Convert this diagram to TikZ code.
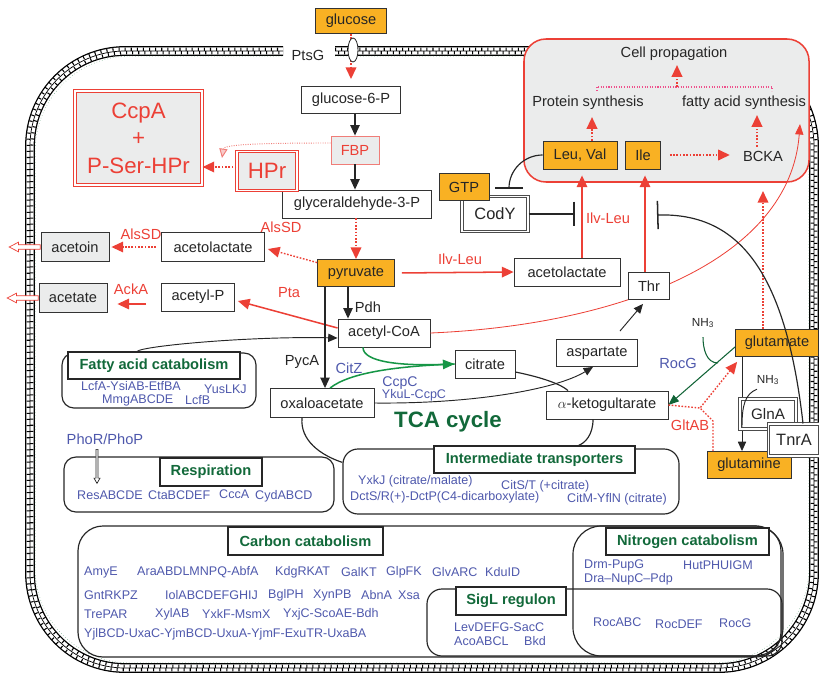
\documentclass[tikz,border=0pt]{standalone}
\usepackage{fontspec}
\setmainfont{Liberation Sans}
\usepackage{tikz}
\usetikzlibrary{arrows.meta, positioning, calc, shapes.geometric, shapes.arrows}
\definecolor{keyorange}{RGB}{249,177,35}
\definecolor{cellred}{RGB}{236,64,54}
\definecolor{lightred}{RGB}{240,125,120}
\definecolor{pinkdot}{RGB}{238,80,140}
\definecolor{boxgray}{RGB}{235,236,236}
\definecolor{geneblue}{RGB}{78,88,172}
\definecolor{titlegreen}{RGB}{18,105,58}
\definecolor{citzgreen}{RGB}{22,150,70}
\definecolor{rocgreen}{RGB}{18,100,55}
\definecolor{wallgreen}{RGB}{60,140,90}
\newcommand{\labfnt}{\fontsize{12.5}{14}\selectfont}
\newcommand{\genefnt}{\fontsize{10.7}{12}\selectfont}
\newcommand{\bigfnt}{\fontsize{19}{23.4}\selectfont}
\newcommand{\regfnt}{\fontsize{14}{16}\selectfont}
% cell wall outline, #1 = outward offset in px
\newcommand{\wallpath}[1]{(335,{-51+(#1)}) -- ({814+(#1)},{-51+(#1)}) -- ({814+(#1)},{-668-(#1)}) -- ({30-(#1)},{-668-(#1)}) -- ({30-(#1)},{-51+(#1)}) -- (283,{-51+(#1)})}
\tikzset{
    % metabolite boxes
    metab/.style={rectangle, draw=black!80, fill=white, line width=0.7pt, inner sep=0pt, minimum height=0.84cm, font=\labfnt, text=black!85},
    keymetab/.style={metab, fill=keyorange},
    exported/.style={metab, fill=boxgray},
    % regulators with double frame
    regulator/.style={rectangle, draw=black!70, double=white, double distance=1.2pt, line width=0.9pt, fill=white, inner sep=0pt, font=\regfnt, text=black!85},
    redregulator/.style={regulator, draw=cellred, fill=boxgray, text=cellred, font=\bigfnt, align=center},
    % group panels
    panel/.style={rectangle, rounded corners=0.36cm, draw=black!85, line width=1pt, inner sep=0pt},
    paneltitle/.style={rectangle, draw=black!85, fill=white, line width=1pt, inner sep=0pt, font=\labfnt\bfseries, text=titlegreen},
    gene/.style={font=\genefnt, text=geneblue, inner sep=0pt, anchor=west},
    plainlabel/.style={font=\labfnt, inner sep=0pt, text=black!85},
    enzyme/.style={font=\labfnt, inner sep=0pt, text=cellred},
    bluelabel/.style={font=\labfnt, inner sep=0pt, text=geneblue},
    % export arrows
    export/.style={single arrow, draw=cellred, fill=white, line width=0.6pt, minimum height=0.93cm, inner xsep=0pt, inner ysep=0.055cm, single arrow head extend=0.08cm, single arrow tip angle=55, shape border rotate=180},
    phoarrow/.style={single arrow, draw=black!85, fill=white, line width=0.6pt, minimum height=1.02cm, inner xsep=0.02cm, inner ysep=0.045cm, single arrow head extend=0.06cm, single arrow tip angle=60, shape border rotate=270},
    % arrow styles
    blackarrow/.style={-{Triangle[length=9pt, width=8pt]}, line width=1.1pt, black!85},
    thinarrow/.style={-{Triangle[length=8pt, width=7pt]}, line width=0.8pt, black!85},
    thinline/.style={line width=1pt, black!85},
    redarrow/.style={-{Triangle[length=10pt, width=9pt]}, line width=1.3pt, cellred},
    reddots/.style={line width=1.6pt, cellred, dash pattern=on 1.4pt off 1.4pt},
    reddotarrow/.style={reddots, -{Triangle[length=10pt, width=9pt]}},
    thinred/.style={-{Triangle[length=9pt, width=7pt]}, line width=0.7pt, cellred},
    lightdots/.style={-{Triangle[length=8pt, width=7pt, fill=lightred!40]}, line width=0.8pt, lightred, dash pattern=on 0.8pt off 1.2pt},
    pinkdots/.style={line width=0.9pt, pinkdot, dash pattern=on 0.9pt off 1.3pt},
    citzline/.style={-{Triangle[length=10pt, width=8pt]}, line width=1.3pt, citzgreen},
    rocarrow/.style={-{Triangle[length=9pt, width=7pt]}, line width=0.9pt, rocgreen},
    inhibit/.style={-{Bar[width=#1, line width=1.3pt]}, line width=1pt, black!85},
}
\begin{document}
\begin{tikzpicture}[x=0.03cm, y=0.03cm, >=Stealth]
\useasboundingbox (0,0) rectangle (819,-672);

% ============================================================
% Cell wall
% ============================================================
\draw[line width=8.4pt, rounded corners=2.85cm] \wallpath{0};
\draw[line width=6.2pt, white, rounded corners=2.85cm] \wallpath{0};
\draw[line width=0.6pt, rounded corners=2.85cm] \wallpath{0};
\draw[line width=2.7pt, dash pattern=on 0.9pt off 4.3pt, rounded corners=2.85cm] \wallpath{1.8};
\draw[line width=2.7pt, dash pattern=on 0.9pt off 4.3pt, dash phase=2.6pt, rounded corners=2.85cm] \wallpath{-1.8};
\draw[wallgreen, line width=0.4pt, dotted, rounded corners=2.85cm] \wallpath{-5.1};

% ============================================================
% Cell propagation
% ============================================================
\node[rectangle, rounded corners=0.66cm, draw=cellred, line width=1.3pt, fill=boxgray,
      minimum width=8.55cm, minimum height=4.29cm] (propbox) at (666.5,-110.5) {};
\node[plainlabel] (cellprop) at (674,-54) {Cell propagation};
\node[plainlabel] (protsyn) at (588,-103) {Protein synthesis};
\node[plainlabel] (fasyn) at (744,-103) {fatty acid synthesis};
\node[plainlabel] (bcka) at (763,-156) {BCKA};
\node[keymetab, minimum width=2.22cm] (leuval) at (580,-155) {Leu, Val};
\node[keymetab, minimum width=1.05cm] (ile) at (643,-155) {Ile};

\coordinate (brmid) at (677,-87);
\coordinate (brleft) at (597,-91);
\coordinate (brright) at (772,-91);
\draw[pinkdots] (brleft) |- (brmid) -| (brright);
\draw[reddotarrow] (brmid) -- ($(cellprop.south)+(3,-4)$);
\draw[reddotarrow] ($(leuval.north)+(12,0)$) -- ($(protsyn.south)+(4,-7)$);
\draw[reddotarrow] ($(bcka.north)+(-6,4)$) -- ($(fasyn.south)+(13,-5)$);
\draw[reddotarrow, shorten <=0.27cm, shorten >=0.39cm] (ile.east) -- (ile.east -| bcka.west);

% ============================================================
% Group panels
% ============================================================
\node[panel, minimum width=5.82cm, minimum height=1.65cm] (fapanel) at (159,-380.5) {};
\node[paneltitle, minimum width=5.16cm, minimum height=0.81cm] (fattl) at (154,-365.5) {Fatty acid catabolism};
\node[gene] (lcfa) at (81,-386) {LcfA-YsiAB-EtfBA};
\node[gene] (yuslkj) at (204,-389) {YusLKJ};
\node[gene] (mmg) at (102,-400) {MmgABCDE};
\node[gene] (lcfb) at (185,-400) {LcfB};

\node[panel, minimum width=8.1cm, minimum height=1.65cm] (resppanel) at (199,-484.5) {};
\node[paneltitle, minimum width=3.06cm, minimum height=0.84cm] (respttl) at (211,-472) {Respiration};
\node[gene] (res) at (77,-495) {ResABCDE};
\node[gene] (cta) at (148,-495) {CtaBCDEF};
\node[gene] (ccca) at (219,-494) {CccA};
\node[gene] (cyd) at (255,-496) {CydABCD};
\node[bluelabel] (phor) at (105,-439) {PhoR/PhoP};
\node[phoarrow, anchor=tail] (phoflow) at (97,-449) {};

\node[panel, rounded corners=0.45cm, minimum width=10.08cm, minimum height=1.95cm] (transpanel) at (511,-481.5) {};
\node[paneltitle, minimum width=6.03cm, minimum height=0.81cm] (transttl) at (534.5,-459.5) {Intermediate transporters};
\node[gene] (yxkj) at (358,-481) {YxkJ (citrate/malate)};
\node[gene] (cits) at (501,-486) {CitS/T (+citrate)};
\node[gene] (dcts) at (350,-497) {DctS/R(+)-DctP(C4-dicarboxylate)};
\node[gene] (citm) at (567,-499) {CitM-YflN (citrate)};

\node[panel, rounded corners=0.75cm, minimum width=21.09cm, minimum height=3.93cm] (carbpanel) at (429.5,-591.5) {};
\node[panel, rounded corners=0.85cm, minimum width=6.3cm, minimum height=3.9cm] (nitpanel) at (678,-591) {};
\node[panel, rounded corners=0.45cm, minimum width=10.65cm, minimum height=2.01cm] (siglpanel) at (604.5,-622.5) {};
\node[paneltitle, minimum width=4.65cm, minimum height=0.84cm] (carbttl) at (305.5,-541) {Carbon catabolism};
\node[paneltitle, minimum width=4.89cm, minimum height=0.81cm] (nitttl) at (687.5,-541.5) {Nitrogen catabolism};
\node[paneltitle, minimum width=3.3cm, minimum height=0.84cm] (siglttl) at (511,-601) {SigL regulon};

\node[gene] (amye) at (84,-572) {AmyE};
\node[gene] (ara) at (137,-572) {AraABDLMNPQ-AbfA};
\node[gene] (kdg) at (275,-572) {KdgRKAT};
\node[gene] (galkt) at (341,-572) {GalKT};
\node[gene] (glpfk) at (386,-572) {GlpFK};
\node[gene] (glvarc) at (432,-572) {GlvARC};
\node[gene] (kduid) at (485,-572) {KduID};
\node[gene] (gnt) at (84,-595) {GntRKPZ};
\node[gene] (iol) at (165,-595) {IolABCDEFGHIJ};
\node[gene] (bglph) at (268,-595) {BglPH};
\node[gene] (xynpb) at (313,-595) {XynPB};
\node[gene] (abna) at (361,-595) {AbnA};
\node[gene] (xsa) at (398,-595) {Xsa};
\node[gene] (trepar) at (84,-614) {TrePAR};
\node[gene] (xylab) at (155,-614) {XylAB};
\node[gene] (yxkf) at (202,-614) {YxkF-MsmX};
\node[gene] (yxjc) at (283,-614) {YxjC-ScoAE-Bdh};
\node[gene] (yjl) at (84,-634) {YjlBCD-UxaC-YjmBCD-UxuA-YjmF-ExuTR-UxaBA};

\node[gene] (drm) at (584,-565) {Drm-PupG};
\node[gene] (hut) at (683,-565) {HutPHUIGM};
\node[gene] (dra) at (584,-579) {Dra--NupC--Pdp};
\node[gene] (rocabc) at (593,-622) {RocABC};
\node[gene] (rocdef) at (655,-624) {RocDEF};
\node[gene] (rocgn) at (719,-623) {RocG};
\node[gene] (lev) at (454,-627) {LevDEFG-SacC};
\node[gene] (aco) at (454,-641) {AcoABCL};
\node[gene] (bkd) at (524,-641) {Bkd};

% ============================================================
% Glycolysis
% ============================================================
\node[keymetab, minimum width=2.13cm, minimum height=0.75cm] (glucose) at (351,-21) {glucose};
\node[plainlabel] (ptsglab) at (308,-55) {PtsG};
\node[metab, minimum width=2.97cm, minimum height=0.81cm] (g6p) at (351,-100) {glucose-6-P};
\node[metab, draw=lightred, fill=boxgray, text=cellred, minimum width=1.44cm] (fbp) at (355,-150) {FBP};
\node[metab, minimum width=4.47cm] (gap) at (357,-204) {glyceraldehyde-3-P};
\node[keymetab, minimum width=2.31cm, minimum height=0.81cm] (pyr) at (356,-273) {pyruvate};

\draw[reddotarrow] (glucose.south) -- ($(g6p.north)+(0,7)$);
\node[ellipse, draw=black!85, fill=white, line width=0.7pt, minimum width=0.3cm, minimum height=0.72cm, inner sep=0pt] (ptsg) at (353,-50) {};
\draw[blackarrow] (fbp.north |- g6p.south) -- (fbp.north);
\draw[blackarrow] (fbp.south) -- (fbp.south |- gap.north);
\draw[reddotarrow] (pyr.north |- gap.south) -- (pyr.north);

% CcpA / HPr
\node[redregulator, minimum width=3.81cm, minimum height=2.82cm] (ccpa) at (138.5,-138) {CcpA\\+\\P-Ser-HPr};
\node[redregulator, minimum width=1.8cm, minimum height=1.17cm] (hpr) at (267,-171) {HPr};
\coordinate (hprout) at ($(hpr.west)+(0,4)$);
\draw[reddotarrow] (hprout) -- (hprout -| ccpa.east);
\draw[lightdots] ($(fbp.west)+(0,7)$) .. controls (250,-143) and (224,-145) .. (222,-158);

% ============================================================
% Overflow
% ============================================================
\node[metab, minimum width=3.09cm, minimum height=0.87cm] (actlA) at (213,-247) {acetolactate};
\node[exported, minimum width=2.04cm, minimum height=0.87cm] (acetoin) at (75,-247) {acetoin};
\node[exported, minimum width=2.04cm, minimum height=0.87cm] (acetate) at (73,-298) {acetate};
\node[metab, minimum width=2.19cm] (acetylP) at (198,-297) {acetyl-P};
\node[metab, minimum width=2.76cm] (acCoA) at (384,-333) {acetyl-CoA};
\node[export, anchor=tail] (expacetoin) at (acetoin.west) {};
\node[export, anchor=tail] (expacetate) at (acetate.west) {};

\node[enzyme] (alsA) at (281,-227) {AlsSD};
\node[enzyme] (alsB) at (141,-234) {AlsSD};
\node[enzyme] (acka) at (131,-289) {AckA};
\node[enzyme] (pta) at (289,-293) {Pta};
\node[plainlabel] (pdh) at (368,-307) {Pdh};
\node[plainlabel] (pyca) at (302,-362) {PycA};

\draw[reddotarrow, line width=1.2pt] (pyr.165) -- ($(actlA.east)+(3,-2)$);
\draw[reddotarrow, line width=1.2pt, shorten <=0.15cm, shorten >=0.06cm] (actlA.west) -- (acetoin.east);
\draw[redarrow, shorten <=0.45cm, shorten >=0.3cm] ([yshift=-0.21cm]acetylP.west) -- ([yshift=-0.21cm]acetylP.west -| acetate.east);
\draw[redarrow] ($(acCoA.west)+(0,5)$) -- ($(acetylP.east)+(3,-4)$);

\coordinate (pdhx) at (348,0);
\coordinate (pycx) at (325,0);
\draw[blackarrow] (pdhx |- pyr.south) -- (pdhx |- acCoA.north);

% ============================================================
% TCA cycle
% ============================================================
\node[metab, minimum width=3.12cm, minimum height=0.87cm] (oaa) at (322,-403) {oxaloacetate};
\node[metab, minimum width=1.8cm] (citrate) at (485,-364) {citrate};
\node[metab, minimum width=2.43cm, minimum height=0.81cm] (asp) at (597,-353) {aspartate};
\node[metab, minimum width=3.18cm] (actlB) at (567,-272) {acetolactate};
\node[font=\fontsize{19}{22}\selectfont\bfseries, text=titlegreen, inner sep=0pt] (tca) at (448,-422) {TCA cycle};
\node[bluelabel] (citz) at (349,-368) {CitZ};
\node[bluelabel, font=\fontsize{12}{14}\selectfont] (ccpc) at (400,-383) {CcpC};
\node[gene, anchor=center] (ykul) at (414,-395) {YkuL-CcpC};

\draw[blackarrow] (pycx |- pyr.south) -- (pycx |- oaa.north);
\draw[thinarrow] ($(fattl.north)+(-17,0)$) .. controls (142,-346) and (250,-336) .. ($(acCoA.west)+(0,-5)$);
\draw[citzline] ($(acCoA.south)+(-21,0)$) .. controls (363,-362) and (400,-366) .. (citrate.west);
\draw[citzline, -] ($(oaa.north)+(8,0)$) .. controls (350,-372) and (400,-366) .. (citrate.west);
\draw[thinarrow] (oaa.east) .. controls (470,-404) and (555,-390) .. ($(asp.south)+(-4,0)$);
\draw[thinline] ($(oaa.south)+(-20,0)$) .. controls (300,-440) and (320,-455) .. ($(transpanel.north west)+(0,-14)$);

% thin red route to fatty acid synthesis (behind Thr)
\coordinate (faend) at (800,-124);
\draw[thinred] (acCoA.east) .. controls (620,-325) and (790,-260) .. (faend);
\node[metab, minimum width=1.23cm, minimum height=0.81cm] (thr) at (649,-286) {Thr};

\node[enzyme] (ilvA) at (460,-259) {Ilv-Leu};
\node[enzyme] (ilvB) at (608,-218) {Ilv-Leu};
\draw[redarrow, shorten <=0.21cm] (pyr.east) -- (actlB.west);
\draw[redarrow] ($(actlB.north)+(15,0)$) -- ($(leuval.south)+(2,-6)$);
\draw[redarrow] ($(thr.north)+(-4,0)$) -- ($(ile.south)+(2,-6)$);
\draw[thinarrow] ($(asp.north east)+(-18,8)$) -- ($(thr.south)+(-6,-4)$);

% ============================================================
% Nitrogen assimilation
% ============================================================
\node[metab, minimum width=3.66cm] (akg) at (607,-405) {$\alpha$-ketogultarate};
\node[keymetab, minimum width=2.49cm, minimum height=0.81cm] (glu) at (777,-343) {glutamate};
\node[keymetab, minimum width=2.52cm, minimum height=0.81cm] (gln) at (749,-465) {glutamine};
\node[font=\fontsize{10}{12}\selectfont, inner sep=0pt, text=black!85] (nhA) at (703,-323) {NH\textsubscript{3}};
\node[font=\fontsize{10}{12}\selectfont, inner sep=0pt, text=black!85] (nhB) at (768,-380) {NH\textsubscript{3}};
\node[bluelabel] (rocg) at (678,-363) {RocG};
\node[enzyme] (gltab) at (690,-425) {GltAB};

\draw[thinline] ($(citrate.east)+(0,-8)$) .. controls (545,-378) and (562,-385) .. ($(akg.north)+(-39,0)$);
\draw[thinline] ($(akg.south)+(-14,0)$) .. controls (593,-435) and (585,-443) .. ($(transttl.north)+(44,0)$);

\coordinate (rocjoin) at (718,-363);
\draw[rocarrow] ($(glu.south west)+(0,10)$) -- (akg.east);
\draw[line width=0.9pt, rocgreen] ($(nhA.south)+(0,-9)$) to[out=-90, in=180] (rocjoin);

\coordinate (gltjoin) at (700,-408);
\coordinate (gltbend) at (713,-421);
\draw[reddots, line width=1.2pt] (akg.east) -- (gltjoin);
\draw[reddotarrow, line width=1.2pt] (gltbend |- gln.north) -- (gltbend) -- (gltjoin) -- ($(glu.south west)+(2,-5)$);

\coordinate (glnx) at (742,0);
\draw[thinarrow] (glnx |- glu.south) -- (glnx |- gln.north);
\node[regulator, font=\fontsize{13}{15}\selectfont, minimum width=1.68cm, minimum height=0.9cm] (glnA) at (768,-414) {GlnA};
\node[regulator, minimum width=1.53cm, minimum height=0.96cm] (tnrA) at (794,-440) {TnrA};
\coordinate (glnjoin) at (742,-427);
\draw[thinline, line width=0.8pt] ($(nhB.south)+(-11,-4)$) .. controls (745,-394) and (742,-405) .. (glnjoin);

\coordinate (gluup) at (763,-191);
\draw[reddotarrow, line width=1.8pt] ($(glu.north)+(-14,0)$) -- (gluup);

% ============================================================
% CodY / TnrA regulation
% ============================================================
\node[regulator, minimum width=1.98cm, minimum height=1.05cm] (cody) at (495,-214) {CodY};
\node[keymetab, minimum width=1.5cm, minimum height=0.81cm] (gtp) at (464,-187) {GTP};
\coordinate (gtphit) at (509,-189);
\coordinate (codyhit) at (575,-214);
\coordinate (tnrahit) at (657,-215);
\draw[inhibit=24pt] (leuval.west) to[out=180, in=90] (gtphit);
\draw[inhibit=21pt] (cody.east) -- (codyhit);
\draw[inhibit=24pt] ($(tnrA.north)+(9,0)$) .. controls (785,-265) and (735,-213) .. (tnrahit);

\end{tikzpicture}
\end{document}
